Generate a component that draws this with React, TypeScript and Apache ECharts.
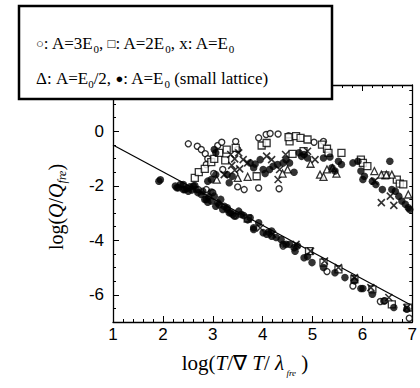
import React, { useEffect, useRef } from "react";
import * as echarts from "echarts";

// ---- data ----
const xTickLabels = [1, 2, 3, 4, 5, 6, 7];
const yTickLabels = [-6, -4, -2, 0];

const fitLine: number[][] = [[1, -0.5], [7, -6.4]];

const openCircles: number[][] = [
  [2.51, -0.46], [2.69, -0.55], [2.77, -0.67], [2.85, -0.82], [2.9, -1.01], [2.87, -1.22],
  [3.1, -0.52], [3.18, -0.4], [3.46, -0.37], [3.5, -0.67], [3.2, -1.4], [3.5, -2.04],
  [3.63, -2.14], [3.92, -2.08], [4.33, -2.11], [3.92, -0.24], [4.07, -0.12], [4.15, -0.08],
  [4.31, -0.1], [4.52, -0.16], [5.03, -0.4], [5.22, -0.37], [2.71, -2.14], [2.87, -2.14],
  [3.0, -2.25], [3.43, -3.11], [4.41, -4.21], [5.29, -5.15], [5.81, -5.68], [6.36, -6.25],
  [6.45, -6.22], [6.94, -6.86], [3.02, -1.55],
];

const openSquares: number[][] = [
  [2.64, -1.71], [2.72, -1.5], [2.84, -1.38], [2.97, -1.13], [3.03, -1.01], [3.13, -0.79],
  [3.28, -0.67], [3.25, -1.07], [3.46, -0.61], [3.98, -0.52], [4.08, -0.43], [4.54, -0.37],
  [4.52, -0.21], [4.67, -0.18], [4.76, -0.24], [4.9, -0.3], [5.19, -0.49], [5.29, -0.64],
  [5.32, -0.79], [4.6, -0.83], [4.82, -0.73], [5.58, -0.79], [5.97, -1.04], [6.01, -1.16],
  [6.1, -1.28], [6.46, -1.62], [6.69, -1.77], [6.75, -1.92], [6.82, -1.95], [3.88, -1.65],
  [4.93, -4.4], [5.22, -4.82], [5.52, -5.07], [5.84, -5.43], [6.2, -5.8], [6.59, -6.35],
  [6.92, -6.47], [3.7, -3.2],
];

const crosses: number[][] = [
  [3.36, -0.85], [3.44, -1.01], [3.52, -0.79], [3.61, -1.04], [3.7, -1.16], [3.54, -1.38],
  [3.44, -1.43], [3.23, -1.59], [4.08, -0.91], [4.18, -1.04], [4.31, -1.77], [4.34, -1.4],
  [4.46, -0.85], [4.9, -0.73], [5.05, -1.04], [6.24, -1.83], [6.38, -2.62], [6.56, -2.38],
  [6.63, -2.72], [4.67, -4.15], [4.96, -4.4], [5.24, -4.76], [5.52, -5.0], [5.84, -5.37],
  [6.17, -5.74], [6.53, -6.1], [6.89, -6.47], [4.2, -3.78], [3.95, -3.55], [3.38, -1.25],
];

const triangles: number[][] = [
  [3.08, -1.77], [3.5, -1.71], [3.7, -1.67], [4.5, -1.4], [4.96, -1.19], [5.15, -1.59],
  [5.22, -1.67], [5.29, -1.4], [5.48, -1.55], [6.38, -1.59], [6.59, -1.59], [6.92, -2.32],
  [6.24, -1.46], [6.48, -1.59], [4.4, -1.55], [5.4, -1.35],
];

const filledCircles: number[][] = [
  // upper branch
  [1.92, -1.83], [1.95, -1.78], [3.06, -0.79], [3.03, -0.67], [3.29, -1.59], [3.33, -1.89],
  [3.39, -1.65], [3.75, -1.16], [3.82, -1.34], [3.95, -1.04], [4.01, -1.4], [4.14, -1.4],
  [4.21, -1.28], [4.41, -1.16], [4.47, -1.04], [4.54, -1.16], [4.63, -1.5], [4.73, -0.79],
  [4.83, -0.85], [4.9, -0.98], [4.78, -0.92], [5.22, -0.98], [5.35, -0.94], [5.52, -1.1],
  [5.58, -1.22], [5.39, -1.34], [5.45, -1.46], [5.81, -1.16], [5.91, -1.1], [5.97, -1.46],
  [6.04, -1.65], [6.01, -1.77], [6.2, -1.83], [6.27, -1.95], [6.55, -1.1], [6.4, -2.14],
  [6.59, -2.14], [6.66, -2.2], [6.73, -2.38], [6.79, -2.56], [6.86, -2.68], [6.92, -2.81],
  [6.95, -2.87], [2.97, -1.77], [3.06, -1.59], [2.9, -1.83], [3.85, -1.2], [4.3, -1.22],
  [4.05, -1.55],
  // lower branch
  [2.25, -2.01], [2.28, -2.07], [2.31, -2.07], [2.35, -1.95], [2.41, -1.95], [2.41, -2.14],
  [2.44, -2.14], [2.51, -2.2], [2.54, -2.04], [2.61, -2.01], [2.64, -1.99], [2.67, -2.14],
  [2.77, -2.32], [2.84, -2.5], [2.87, -2.5], [2.92, -2.4], [2.97, -2.23], [2.97, -2.56],
  [3.03, -2.38], [3.06, -2.75], [3.1, -2.62], [3.16, -2.5], [3.2, -2.87], [3.23, -2.75],
  [3.29, -2.81], [3.29, -2.87], [3.33, -2.99], [3.36, -2.99], [3.46, -3.11], [3.52, -2.93],
  [3.62, -3.09], [3.75, -3.17], [3.82, -3.54], [3.82, -3.6], [3.92, -3.36], [4.01, -3.72],
  [4.08, -3.78], [4.18, -3.66], [4.18, -3.85], [4.27, -3.9], [4.37, -3.97], [4.41, -4.15],
  [4.47, -4.15], [4.54, -4.15], [4.63, -4.27], [4.65, -4.4], [4.7, -4.21], [4.83, -4.64],
  [4.99, -4.82], [5.22, -5.0], [5.45, -5.19], [5.65, -5.37], [5.84, -5.49], [5.97, -5.77],
  [6.01, -5.77], [6.2, -5.98], [6.43, -6.23], [6.63, -6.47], [6.89, -6.53], [2.7, -2.25],
  [2.8, -2.2], [3.13, -2.7], [3.4, -3.05], [3.57, -3.05], [3.7, -3.25], [2.48, -2.1],
  [2.58, -2.15], [2.9, -2.6], [4.12, -3.7], [4.9, -4.6],
];

const SERIF = "'Liberation Serif', 'Times New Roman', serif";
const SANS = "'Liberation Sans', Arial, sans-serif";

export default function App() {
  const ref = useRef<HTMLDivElement>(null);

  useEffect(() => {
    if (!ref.current) return;
    const chart = echarts.init(ref.current, null, { renderer: "svg" });

    const yMin = -7;
    const yMax = 1.7;

    const commonTick = { show: true, inside: true, length: 4, lineStyle: { color: "#000", width: 1 } };
    const axisLineStyle = { show: true, onZero: false, lineStyle: { color: "#000", width: 1.3 } };

    const legendRich = {
      n: { fontFamily: SERIF, fontSize: 17, color: "#000", lineHeight: 22 },
      b: { fontFamily: SERIF, fontSize: 11, color: "#000", lineHeight: 12, verticalAlign: "bottom" },
      s: { fontFamily: SERIF, fontSize: 13, color: "#000", lineHeight: 22 },
    };

    chart.setOption({
      animation: false,
      backgroundColor: "#fff",
      grid: { left: 113, right: 2, top: 85, bottom: 66 },
      xAxis: [
        {
          type: "value",
          min: 1,
          max: 7,
          interval: 1,
          axisLine: axisLineStyle,
          axisTick: { ...commonTick, length: 6 },
          minorTick: { show: true, splitNumber: 5, length: 3, lineStyle: { color: "#000", width: 1 } },
          splitLine: { show: false },
          axisLabel: {
            color: "#000",
            fontFamily: SANS,
            fontSize: 17,
            margin: 4,
            formatter: (v: number) => (xTickLabels.includes(v) ? String(v) : ""),
          },
        },
        {
          type: "value",
          position: "top",
          min: 1,
          max: 7,
          interval: 1,
          axisLine: axisLineStyle,
          axisTick: { ...commonTick, length: 6 },
          minorTick: { show: true, splitNumber: 5, length: 3, lineStyle: { color: "#000", width: 1 } },
          splitLine: { show: false },
          axisLabel: { show: false },
        },
      ],
      yAxis: [
        {
          type: "value",
          min: yMin,
          max: yMax,
          interval: 0.5,
          axisLine: axisLineStyle,
          axisTick: { ...commonTick, length: 3 },
          splitLine: { show: false },
          axisLabel: {
            color: "#000",
            fontFamily: SANS,
            fontSize: 17,
            margin: 9,
            showMaxLabel: false,
            formatter: (v: number) => (yTickLabels.includes(Math.round(v * 100) / 100) ? String(v) : ""),
          },
        },
        {
          type: "value",
          min: yMin,
          max: yMax,
          position: "left",
          axisLine: { show: false, onZero: false },
          axisTick: { ...commonTick, length: 6, customValues: yTickLabels },
          splitLine: { show: false },
          axisLabel: { show: false },
        },
        {
          type: "value",
          min: yMin,
          max: yMax,
          interval: 0.5,
          position: "right",
          axisLine: axisLineStyle,
          axisTick: { ...commonTick, length: 3 },
          splitLine: { show: false },
          axisLabel: { show: false },
        },
      ],
      series: [
        {
          type: "line",
          data: fitLine,
          symbol: "none",
          lineStyle: { color: "#000", width: 1.2 },
          z: 1,
        },
        {
          type: "scatter",
          data: openCircles,
          symbol: "circle",
          symbolSize: 6,
          itemStyle: { color: "#fff", borderColor: "#000", borderWidth: 1.4 },
          z: 3,
        },
        {
          type: "scatter",
          data: openSquares,
          symbol: "rect",
          symbolSize: 7,
          itemStyle: { color: "#fff", borderColor: "#000", borderWidth: 1.3 },
          z: 3,
        },
        {
          type: "scatter",
          data: crosses,
          symbol: "path://M0,0L10,10M10,0L0,10",
          symbolSize: 7,
          itemStyle: { color: "transparent", borderColor: "#000", borderWidth: 1.6 },
          z: 3,
        },
        {
          type: "scatter",
          data: triangles,
          symbol: "triangle",
          symbolSize: 7,
          itemStyle: { color: "#fff", borderColor: "#000", borderWidth: 1.3 },
          z: 3,
        },
        {
          type: "scatter",
          data: filledCircles,
          symbol: "circle",
          symbolSize: 7.5,
          itemStyle: { color: "#000" },
          z: 4,
        },
      ],
      graphic: [
        {
          type: "rect",
          z: 100,
          shape: { x: 19, y: 6, width: 313, height: 93 },
          style: { fill: "#fff", stroke: "#000", lineWidth: 2.5 },
        },
        {
          type: "text",
          z: 101,
          x: 36,
          y: 43,
          style: {
            text: "{s|○}{n|: A=3E}{b|0}{n|, }{s|□}{n|: A=2E}{b|0}{n|, x: A=E}{b|0}",
            rich: legendRich,
            align: "left",
            verticalAlign: "middle",
          },
        },
        {
          type: "text",
          z: 101,
          x: 36,
          y: 78,
          style: {
            text: "{n|Δ: A=E}{b|0}{n|/2, }{s|●}{n|: A=E}{b|0}{n| (small lattice)}",
            rich: legendRich,
            align: "left",
            verticalAlign: "middle",
          },
        },
        {
          type: "text",
          z: 101,
          x: 245,
          y: 363,
          style: {
            text: "{n|log(}{i|T}{n|/∇ }{i|T}{n|/ }{i|λ}{s| fre}{n| )}",
            rich: {
              n: { fontFamily: SERIF, fontSize: 21, color: "#000", lineHeight: 28 },
              i: { fontFamily: SERIF, fontSize: 21, fontStyle: "italic", color: "#000", lineHeight: 28 },
              s: { fontFamily: SERIF, fontSize: 9, fontStyle: "italic", color: "#000", lineHeight: 10, verticalAlign: "bottom" },
            },
            align: "center",
            verticalAlign: "middle",
          },
        },
        {
          type: "text",
          z: 101,
          x: 56,
          y: 207,
          rotation: Math.PI / 2,
          style: {
            text: "{n|log(}{i|Q}{n|/}{i|Q}{s|fre}{n|)}",
            rich: {
              n: { fontFamily: SERIF, fontSize: 20, color: "#000", lineHeight: 24 },
              i: { fontFamily: SERIF, fontSize: 20, fontStyle: "italic", color: "#000", lineHeight: 24 },
              s: { fontFamily: SERIF, fontSize: 12, fontStyle: "italic", color: "#000", lineHeight: 12, verticalAlign: "bottom" },
            },
            align: "center",
            verticalAlign: "middle",
          },
        },
      ],
    });

    return () => chart.dispose();
  }, []);

  return (
    <div
      ref={ref}
      style={{ position: "fixed", left: 0, top: 0, width: 420, height: 388, background: "#fff" }}
    />
  );
}
